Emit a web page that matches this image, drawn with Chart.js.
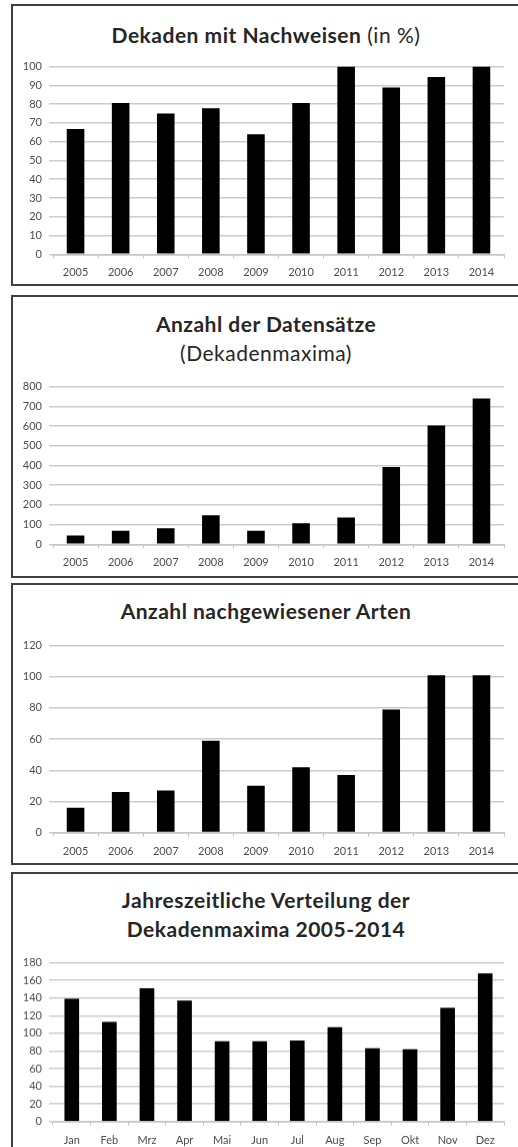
<!DOCTYPE html>
<html lang="de">
<head>
<meta charset="UTF-8">
<title>Dekadenmaxima 2005-2014</title>
<script src="https://cdn.jsdelivr.net/npm/chart.js"></script>
<style>
  body {
    margin: 0;
    background: #fff;
    width: 518px;
    height: 1147px;
    overflow: hidden;
    position: relative;
    font-family: Lato, sans-serif
  }

  .panel {
    position: absolute;
    left: 11px;
    width: 512px;
    border: 2px solid #404040;
    box-sizing: border-box
  }

  .title {
    position: absolute;
    left: 0;
    width: 532px;
    text-align: center;
    font-weight: bold;
    font-size: 21px;
    letter-spacing: 0.5px;
    line-height: 29px;
    color: #262626
  }

  .title span {
    font-weight: normal
  }

  .box {
    position: absolute;
    left: 0;
    width: 518px
  }
</style>
</head>
<body>
  <div class="panel" style="top:4px;height:282px"></div>
  <div class="panel" style="top:295px;height:283px"></div>
  <div class="panel" style="top:583px;height:282px"></div>
  <div class="panel" style="top:872px;height:290px"></div>

  <div class="title" style="top:19.5px">Dekaden mit Nachweisen<span> (in %)</span></div>
  <div class="title" style="top:308.5px">Anzahl der Datensätze<br><span>(Dekadenmaxima)</span></div>
  <div class="title" style="top:595.5px">Anzahl nachgewiesener Arten</div>
  <div class="title" style="top:884.5px">Jahreszeitliche Verteilung der<br>Dekadenmaxima 2005-2014</div>

  <div class="box" id="box1"><canvas id="c1"></canvas></div>
  <div class="box" id="box2"><canvas id="c2"></canvas></div>
  <div class="box" id="box3"><canvas id="c3"></canvas></div>
  <div class="box" id="box4"><canvas id="c4"></canvas></div>

<script>
  // Jahre / Monate
  const years = ['2005', '2006', '2007', '2008', '2009', '2010', '2011', '2012', '2013', '2014'];
  const months = ['Jan', 'Feb', 'Mrz', 'Apr', 'Mai', 'Jun', 'Jul', 'Aug', 'Sep', 'Okt', 'Nov', 'Dez'];

  // Dekaden mit Nachweisen (in %)
  const dekadenProzent = [66.7, 80.6, 75, 77.8, 63.9, 80.6, 100, 88.9, 94.4, 100];
  // Anzahl der Datensätze (Dekadenmaxima)
  const datensaetze = [45, 69, 81, 147, 69, 107, 136, 392, 603, 739];
  // Anzahl nachgewiesener Arten
  const arten = [16, 26, 27, 59, 30, 42, 37, 79, 101, 101];
  // Jahreszeitliche Verteilung der Dekadenmaxima 2005-2014
  const monatsMaxima = [139, 113, 151, 137, 91, 91, 92, 107, 83, 82, 129, 168];

  // y-Achsen: max / Schrittweite
  const yMax = [100, 800, 120, 180];
  const yStep = [10, 100, 20, 20];

  // Plotbereich (oben, unten) in Seitenpixeln
  const plotArea = [[62.7, 254], [382.7, 544], [641.7, 832.3], [959.3, 1121]];

  const PAD_TOP = 10;
  const X_AXIS_H = 30;

  function makeChart(i, labels, values) {
    const [top, bottom] = plotArea[i];
    const box = document.getElementById('box' + (i + 1));
    box.style.top = (top - PAD_TOP) + 'px';
    box.style.height = (bottom - top + PAD_TOP + X_AXIS_H) + 'px';

    return new Chart(document.getElementById('c' + (i + 1)), {
      type: 'bar',
      data: {
        labels: labels,
        datasets: [{
          data: values,
          backgroundColor: '#000',
          borderWidth: 0,
          categoryPercentage: 1,
          barPercentage: 0.39
        }]
      },
      options: {
        responsive: true,
        maintainAspectRatio: false,
        animation: false,
        layout: {
          padding: { top: PAD_TOP, right: 14, bottom: 0, left: 0 }
        },
        plugins: {
          legend: { display: false },
          tooltip: { enabled: false }
        },
        scales: {
          x: {
            grid: {
              display: true,
              drawOnChartArea: false,
              drawTicks: true,
              tickLength: 4,
              color: '#c4c4c4'
            },
            border: { display: true, color: '#c4c4c4', width: 1.5 },
            ticks: {
              color: '#4d4d4d',
              padding: 8,
              maxRotation: 0,
              font: { family: 'Lato', size: 11 }
            },
            afterFit: s => { s.height = X_AXIS_H; }
          },
          y: {
            min: 0,
            max: yMax[i],
            grid: {
              color: '#cccccc',
              lineWidth: 1.5,
              drawTicks: true,
              tickLength: 4
            },
            border: { display: false },
            ticks: {
              stepSize: yStep[i],
              color: '#4d4d4d',
              padding: 7,
              font: { family: 'Lato', size: 11 }
            },
            afterFit: s => { s.width = 53; }
          }
        }
      }
    });
  }

  makeChart(0, years, dekadenProzent);
  makeChart(1, years, datensaetze);
  makeChart(2, years, arten);
  makeChart(3, months, monatsMaxima);
</script>
</body>
</html>
